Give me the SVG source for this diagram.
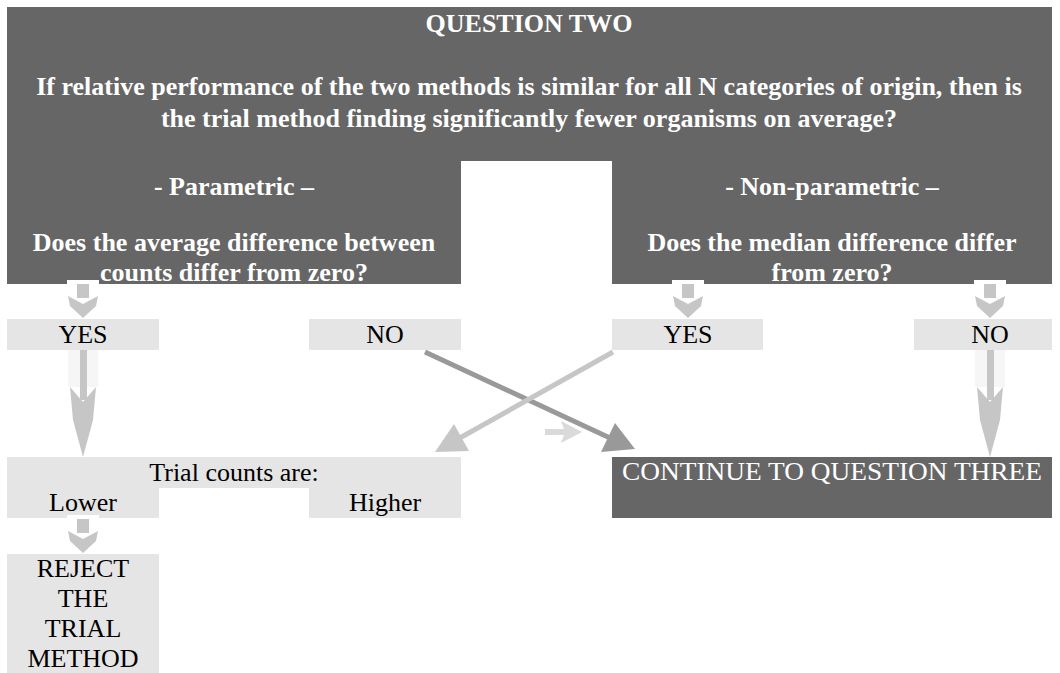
<svg xmlns="http://www.w3.org/2000/svg" width="1060" height="673" viewBox="0 0 1060 673">
<style>
.dark{fill:#666666}
.light{fill:#e5e5e5}
.wb{font-family:"Liberation Serif","Times New Roman",serif;font-weight:bold;font-size:26px;fill:#ffffff;text-anchor:middle}
.t{font-family:"Liberation Serif","Times New Roman",serif;font-size:26px;fill:#000000;text-anchor:middle}
.tw{font-family:"Liberation Serif","Times New Roman",serif;font-size:26px;fill:#ffffff}
.arr{fill:#c6c6c6}
</style>
<defs>
<g id="sdown">
<rect x="-16" y="-4" width="32" height="4" fill="#ffffff"/>
<rect x="-6" y="0" width="12" height="14" class="arr"/>
<polygon points="-15,12 0,20 15,12 13,22 0,34 -13,22" class="arr"/>
</g>
<g id="ldown">
<rect x="-15" y="0" width="30" height="37" fill="#f6f6f6"/>
<rect x="-3" y="0" width="7" height="50" class="arr"/>
<polygon points="-13,37 0,52 13,37 10,70 0,107 -10,70" class="arr"/>
</g>
</defs>
<rect width="1060" height="673" fill="#ffffff"/>

<g id="question">
<path class="dark" d="M7,7 H1052 V284 H612 V161 H461 V284 H7 Z"/>
<text class="wb" x="529" y="32">QUESTION TWO</text>
<text class="wb" x="529" y="95">If relative performance of the two methods is similar for all N categories of origin, then is</text>
<text class="wb" x="529" y="127">the trial method finding significantly fewer organisms on average?</text>
<text class="wb" x="234" y="195">- Parametric –</text>
<text class="wb" x="234" y="251">Does the average difference between</text>
<text class="wb" x="234" y="281">counts differ from zero?</text>
<text class="wb" x="832" y="195">- Non-parametric –</text>
<text class="wb" x="832" y="251">Does the median difference differ</text>
<text class="wb" x="832" y="281">from zero?</text>
</g>

<g id="yes-left">
<rect class="light" x="7" y="319" width="152" height="31"/>
<text class="t" x="83" y="343">YES</text>
</g>
<g id="no-left">
<rect class="light" x="309" y="319" width="152" height="31"/>
<text class="t" x="385" y="343">NO</text>
</g>
<g id="yes-right">
<rect class="light" x="612" y="319" width="151" height="31"/>
<text class="t" x="688" y="343">YES</text>
</g>
<g id="no-right">
<rect class="light" x="914" y="319" width="138" height="31"/>
<text class="t" x="990" y="343">NO</text>
</g>

<g id="trial-counts">
<rect class="light" x="7" y="457" width="454" height="31"/>
<rect class="light" x="7" y="487" width="152" height="31"/>
<rect class="light" x="309" y="487" width="152" height="31"/>
<text class="t" x="234" y="481">Trial counts are:</text>
<text class="t" x="83" y="511">Lower</text>
<text class="t" x="385" y="511">Higher</text>
</g>

<g id="continue">
<rect class="dark" x="612" y="457" width="440" height="61"/>
<text class="tw" x="622" y="480" textLength="420" lengthAdjust="spacingAndGlyphs">CONTINUE TO QUESTION THREE</text>
</g>

<g id="reject">
<rect class="light" x="7" y="554" width="152" height="119"/>
<text class="t" x="83" y="577">REJECT</text>
<text class="t" x="83" y="607">THE</text>
<text class="t" x="83" y="637">TRIAL</text>
<text class="t" x="83" y="667">METHOD</text>
</g>

<g id="connectors">
<use href="#sdown" x="83" y="284"/>
<use href="#sdown" x="688" y="284"/>
<use href="#sdown" x="990" y="284"/>
<use href="#sdown" x="83" y="519"/>
<use href="#ldown" x="83" y="350"/>
<use href="#ldown" x="990" y="350"/>
<line x1="425" y1="352" x2="610" y2="438" stroke="#999999" stroke-width="5"/>
<polygon points="635,449 601,452 615,423" fill="#999999"/>
<line x1="613" y1="352" x2="458" y2="439" stroke="#c6c6c6" stroke-width="5"/>
<polygon points="435,452 469,451 454,424" fill="#c6c6c6"/>
<polygon points="545,429 564,429 561,421 582,432 561,443 564,435 545,435" fill="#dadada"/>
</g>
</svg>
